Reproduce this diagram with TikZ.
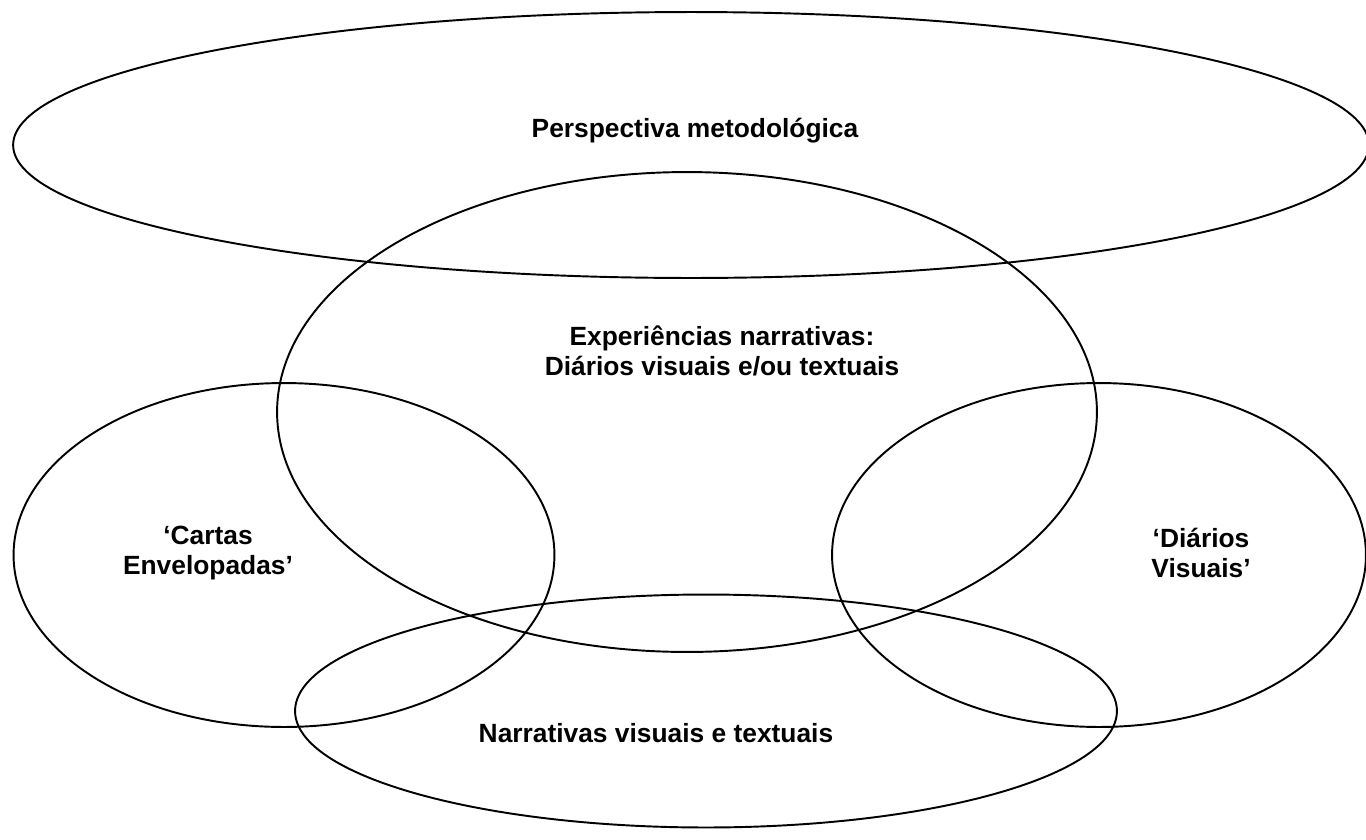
\documentclass[tikz,border=0pt]{standalone}
\usepackage{fontspec}
\setmainfont{Liberation Sans}
\usepackage{tikz}
\usetikzlibrary{shapes.geometric}

\begin{document}
\begin{tikzpicture}[
  x=0.02cm, y=-0.02cm,
  oval/.style={draw, ellipse, line width=1.1pt, inner sep=0pt},
  label/.style={align=center, font=\bfseries\fontsize{15}{17.5}\selectfont}
]
\useasboundingbox (0,0) rectangle (1366,839);

% Elipses
\node[oval, minimum width=27.12cm, minimum height=5.32cm] (persp) at (691,145) {};
\node[oval, minimum width=16.40cm, minimum height=9.60cm] (exper) at (687,412) {};
\node[oval, minimum width=10.82cm, minimum height=6.88cm] (cartas) at (284,555) {};
\node[oval, minimum width=10.68cm, minimum height=6.88cm] (diarios) at (1099,555) {};
\node[oval, minimum width=16.44cm, minimum height=4.66cm] (narr) at (706,711) {};

% Textos
\node[label] (persptxt) at (695,131) {Perspectiva metodológica};
\node[label] (expertxt) at (722,351) {Experiências narrativas:\\Diários visuais e/ou textuais};
\node[label] (cartastxt) at (208,553) {‘Cartas\\Envelopadas’};
\node[label] (diariostxt) at (1201,553) {‘Diários\\Visuais’};
\node[label] (narrtxt) at (656,733) {Narrativas visuais e textuais};

\end{tikzpicture}
\end{document}
